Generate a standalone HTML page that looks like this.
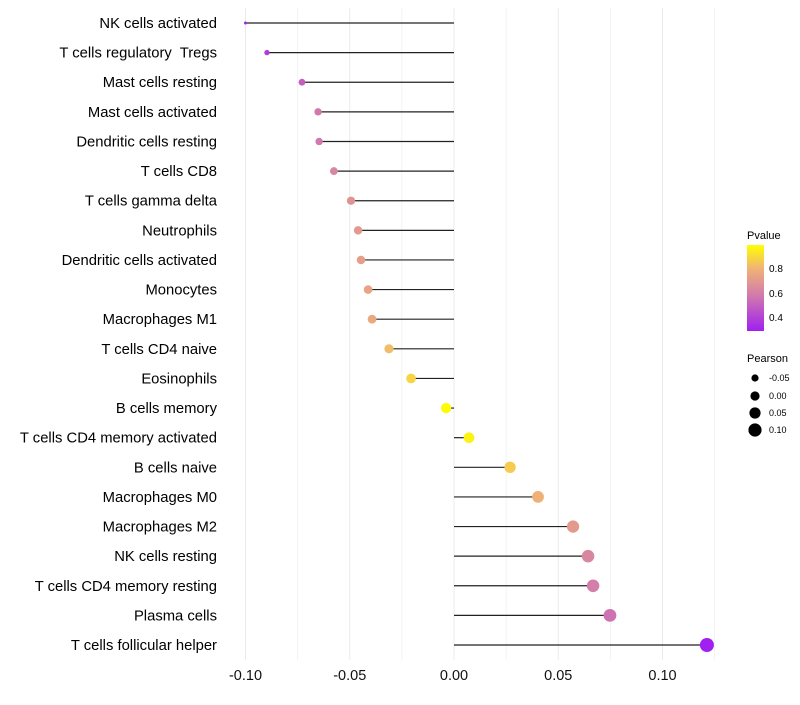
<!DOCTYPE html>
<html><head><meta charset="utf-8"><style>
body{margin:0;background:#fff;font-family:"Liberation Sans",sans-serif}
</style></head><body>
<svg id="chart" width="800" height="700" xmlns="http://www.w3.org/2000/svg">
<defs><linearGradient id="pg" x1="0" y1="1" x2="0" y2="0">
<stop offset="0" stop-color="#a020f0"/><stop offset="0.44" stop-color="#d47fa8"/><stop offset="0.73" stop-color="#f0b474"/><stop offset="1" stop-color="#ffff00"/></linearGradient></defs>
<g id="grid"></g><g id="marks"></g><g id="labels"></g><g id="xaxis"></g>
<g font-size="10">
<text x="747" y="239" font-size="11">Pvalue</text>
<rect x="747" y="245" width="17" height="86" fill="url(#pg)"/>
<text x="769" y="272">0.8</text><text x="769" y="297">0.6</text><text x="769" y="321">0.4</text>
</g>
<g font-size="9">
<text x="747" y="362" font-size="11">Pearson</text>
<circle cx="755" cy="378" r="3.6"/><text x="769" y="381">-0.05</text>
<circle cx="755" cy="396" r="4.6"/><text x="769" y="399">0.00</text>
<circle cx="755" cy="413" r="5.6"/><text x="769" y="416">0.05</text>
<circle cx="755" cy="430" r="6.6"/><text x="769" y="433">0.10</text>
</g>
</svg>
<script>
const categories=["NK cells activated","T cells regulatory  Tregs","Mast cells resting","Mast cells activated","Dendritic cells resting","T cells CD8","T cells gamma delta","Neutrophils","Dendritic cells activated","Monocytes","Macrophages M1","T cells CD4 naive","Eosinophils","B cells memory","T cells CD4 memory activated","B cells naive","Macrophages M0","Macrophages M2","NK cells resting","T cells CD4 memory resting","Plasma cells","T cells follicular helper"];
const pearson=[-0.100,-0.0897,-0.0729,-0.0652,-0.0647,-0.0576,-0.0494,-0.046,-0.0446,-0.0412,-0.0393,-0.0312,-0.0206,-0.0038,0.0072,0.0269,0.0403,0.0571,0.0643,0.0667,0.0748,0.1213];
const pvalues=[0.30,0.38,0.50,0.58,0.58,0.63,0.68,0.70,0.72,0.74,0.76,0.82,0.88,0.98,0.96,0.86,0.79,0.70,0.63,0.60,0.56,0.29];
const xTicks=[-0.10,-0.05,0.00,0.05,0.10];
const xTickLabels=["-0.10","-0.05","0.00","0.05","0.10"];
const NS="http://www.w3.org/2000/svg";
const x=v=>454+v*2085;
const y=i=>23+i*29.62;
const r=v=>1.5+5.5*Math.sqrt(Math.max(0,(v+0.1)/0.22));
const stops=[[0.29,[160,32,240]],[0.6,[212,127,168]],[0.8,[240,180,116]],[0.99,[255,255,0]]];
function col(p){p=Math.max(0.29,Math.min(0.99,p));for(let k=0;k<stops.length-1;k++){const[a,c1]=stops[k],[b,c2]=stops[k+1];if(p<=b){const t=(p-a)/(b-a);return`rgb(${c1.map((c,j)=>Math.round(c+(c2[j]-c)*t)).join(",")})`;}}return"rgb(255,255,0)";}
function mk(tag,attrs,parent){const e=document.createElementNS(NS,tag);for(const k in attrs)e.setAttribute(k,attrs[k]);parent.appendChild(e);return e;}
const grid=document.getElementById("grid"),marks=document.getElementById("marks"),labels=document.getElementById("labels"),xa=document.getElementById("xaxis");
for(let g=-0.1;g<=0.1251;g+=0.025){const l=mk("line",{x1:x(g),x2:x(g),y1:8,y2:660,stroke:"#ebebeb","stroke-width":Math.abs(Math.round(g*1000)%50)<1?1:0.6},grid);

}
xTicks.forEach((t,i)=>{const tx=mk("text",{x:x(t),y:680,"text-anchor":"middle","font-size":14.5,fill:"#111"},xa);tx.textContent=xTickLabels[i];

});
categories.forEach((c,i)=>{
const t=mk("text",{x:217,y:y(i)+5,"text-anchor":"end","font-size":14.8,fill:"#000",style:"white-space:pre"},labels);t.textContent=c;


const ln=mk("line",{x1:x(0),x2:x(pearson[i]),y1:y(i),y2:y(i),stroke:"#222","stroke-width":1.2},marks);


const ci=mk("circle",{cx:x(pearson[i]),cy:y(i),r:r(pearson[i]),fill:col(pvalues[i])},marks);


});
</script>
</body></html>
